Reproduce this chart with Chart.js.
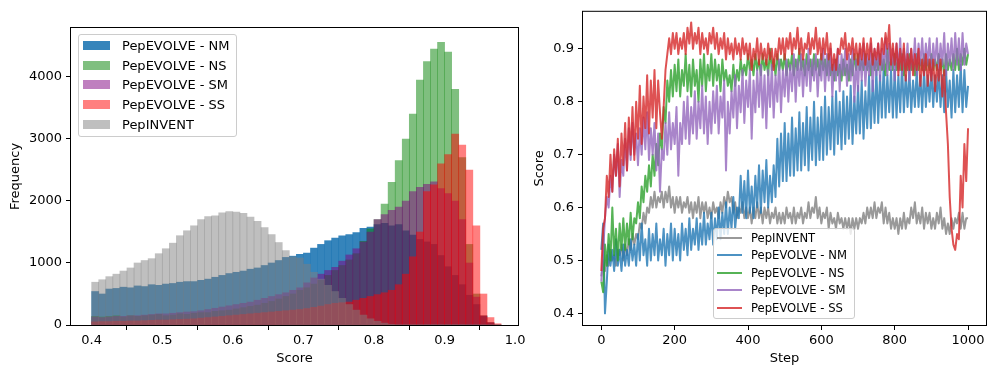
<!DOCTYPE html>
<html>
<head>
<meta charset="utf-8">
<script src="https://cdn.jsdelivr.net/npm/chart.js@4.4.0/dist/chart.umd.min.js"></script>
<style>
    body { margin: 0; background: #fff; font-family: 'DejaVu Sans', sans-serif; }
    #wrap { position: relative; width: 997px; height: 376px; overflow: hidden; }
    canvas { position: absolute; top: 0; }
    #histCanvas { left: 0; }
    #lineCanvas { left: 520px; }
    .legend { position: absolute; box-sizing: border-box; border: 1px solid #cccccc; border-radius: 3px;
              background: rgba(255, 255, 255, 0.8); color: #000; }
    .legend .row { display: flex; align-items: center; white-space: nowrap; }
    #histLegend { left: 78px; top: 34px; width: 159px; height: 103px; padding-top: 1px; font-size: 13px; }
    #histLegend .row { height: 19.6px; }
    #histLegend .mark { width: 27px; height: 9px; margin-left: 4px; margin-right: 12px; }
    #lineLegend { left: 713px; top: 228px; width: 142px; height: 91px; font-size: 11.6px; }
    #lineLegend .row { height: 17.5px; }
    #lineLegend .mark { width: 25px; height: 2px; margin-left: 3px; margin-right: 9px; }
</style>
</head>
<body>
<div id="wrap">
    <canvas id="histCanvas" width="540" height="376"></canvas>
    <canvas id="lineCanvas" width="477" height="376"></canvas>
    <div id="histLegend" class="legend"></div>
    <div id="lineLegend" class="legend"></div>
</div>
<script>
// histogram: bin centres (width 0.01) and counts per model
var binCenters = [0.405, 0.415, 0.425, 0.435, 0.445, 0.455, 0.465, 0.475, 0.485, 0.495,
    0.505, 0.515, 0.525, 0.535, 0.545, 0.555, 0.565, 0.575, 0.585, 0.595,
    0.605, 0.615, 0.625, 0.635, 0.645, 0.655, 0.665, 0.675, 0.685, 0.695,
    0.705, 0.715, 0.725, 0.735, 0.745, 0.755, 0.765, 0.775, 0.785, 0.795,
    0.805, 0.815, 0.825, 0.835, 0.845, 0.855, 0.865, 0.875, 0.885, 0.895,
    0.905, 0.915, 0.925, 0.935, 0.945, 0.955, 0.965, 0.975];

var nmHist = [540, 500, 580, 590, 610, 600, 630, 620, 650, 640,
    660, 670, 690, 700, 700, 720, 740, 770, 800, 830,
    850, 870, 900, 920, 960, 1000, 1040, 1090, 1110, 1140,
    1160, 1240, 1300, 1360, 1400, 1440, 1460, 1490, 1560, 1580,
    1620, 1640, 1600, 1620, 1520, 1450, 1380, 1340, 1300, 1120,
    940, 800, 650, 480, 330, 140, 30, 0];
var nsHist = [140, 130, 140, 150, 130, 150, 140, 150, 160, 170,
    150, 160, 180, 170, 190, 200, 200, 220, 230, 240,
    260, 280, 300, 320, 350, 380, 420, 460, 500, 560,
    600, 660, 720, 800, 880, 960, 1050, 1150, 1350, 1550,
    1700, 1950, 2300, 2650, 3000, 3400, 3950, 4250, 4450, 4560,
    4400, 3800, 2700, 1300, 500, 150, 40, 0];
var smHist = [130, 120, 130, 140, 140, 150, 150, 160, 170, 180,
    180, 190, 200, 210, 215, 230, 250, 270, 290, 310,
    330, 350, 370, 400, 430, 460, 490, 520, 560, 600,
    680, 760, 820, 880, 930, 1030, 1130, 1230, 1340, 1500,
    1700, 1780, 1850, 1900, 2000, 2150, 2220, 2270, 2310, 2200,
    2120, 2000, 1700, 1000, 450, 150, 40, 0];
var ssHist = [50, 55, 55, 60, 60, 65, 65, 70, 75, 80,
    80, 85, 90, 95, 100, 110, 120, 130, 140, 150,
    160, 170, 180, 190, 200, 210, 220, 230, 240, 250,
    265, 285, 305, 330, 350, 360, 370, 400, 430, 460,
    490, 520, 560, 650, 820, 1100, 1500, 2150, 2260, 2600,
    2750, 3080, 2900, 2500, 1600, 500, 120, 20];
var inventHist = [690, 730, 780, 820, 870, 920, 1000, 1040, 1070, 1150,
    1230, 1320, 1440, 1520, 1600, 1700, 1750, 1760, 1810, 1830,
    1820, 1800, 1740, 1670, 1570, 1460, 1330, 1200, 1100, 1080,
    980, 850, 740, 640, 540, 430, 330, 240, 160, 100,
    60, 30, 10, 0, 0, 0, 0, 0, 0, 0,
    0, 0, 0, 0, 0, 0, 0, 0];

var histLabels = ['PepEVOLVE - NM', 'PepEVOLVE - NS', 'PepEVOLVE - SM', 'PepEVOLVE - SS', 'PepINVENT'];
var scoreTicks = [0.4, 0.5, 0.6, 0.7, 0.8, 0.9, 1.0];
var freqTicks = [0, 1000, 2000, 3000, 4000];

// training curves, read every 5 steps (alternating top / bottom of the noisy band)
var steps = [0, 5, 10, 15, 20, 25, 30, 35, 40, 45, 50, 55, 60, 65, 70, 75, 80, 85, 90, 95,
    100, 105, 110, 115, 120, 125, 130, 135, 140, 145, 150, 155, 160, 165, 170, 175, 180, 185, 190, 195,
    200, 205, 210, 215, 220, 225, 230, 235, 240, 245, 250, 255, 260, 265, 270, 275, 280, 285, 290, 295,
    300, 305, 310, 315, 320, 325, 330, 335, 340, 345, 350, 355, 360, 365, 370, 375, 380, 385, 390, 395,
    400, 405, 410, 415, 420, 425, 430, 435, 440, 445, 450, 455, 460, 465, 470, 475, 480, 485, 490, 495,
    500, 505, 510, 515, 520, 525, 530, 535, 540, 545, 550, 555, 560, 565, 570, 575, 580, 585, 590, 595,
    600, 605, 610, 615, 620, 625, 630, 635, 640, 645, 650, 655, 660, 665, 670, 675, 680, 685, 690, 695,
    700, 705, 710, 715, 720, 725, 730, 735, 740, 745, 750, 755, 760, 765, 770, 775, 780, 785, 790, 795,
    800, 805, 810, 815, 820, 825, 830, 835, 840, 845, 850, 855, 860, 865, 870, 875, 880, 885, 890, 895,
    900, 905, 910, 915, 920, 925, 930, 935, 940, 945, 950, 955, 960, 965, 970, 975, 980, 985, 990, 995,
    1000];

var inventCurve = [0.47, 0.50, 0.48, 0.51, 0.49, 0.52, 0.50, 0.51, 0.49, 0.52, 0.51, 0.53, 0.50, 0.53, 0.51, 0.54, 0.52, 0.55, 0.53, 0.55,
    0.54, 0.57, 0.56, 0.59, 0.57, 0.60, 0.59, 0.62, 0.60, 0.63, 0.60, 0.62, 0.61, 0.63, 0.60, 0.63, 0.61, 0.64, 0.60, 0.62,
    0.59, 0.62, 0.60, 0.62, 0.59, 0.61, 0.60, 0.62, 0.59, 0.61, 0.58, 0.61, 0.59, 0.62, 0.58, 0.61, 0.59, 0.61, 0.58, 0.60,
    0.58, 0.61, 0.59, 0.60, 0.58, 0.61, 0.59, 0.62, 0.60, 0.63, 0.61, 0.62, 0.59, 0.61, 0.58, 0.60, 0.59, 0.61, 0.58, 0.60,
    0.58, 0.60, 0.57, 0.60, 0.58, 0.61, 0.58, 0.60, 0.57, 0.60, 0.58, 0.60, 0.57, 0.59, 0.58, 0.60, 0.57, 0.59, 0.57, 0.59,
    0.57, 0.60, 0.58, 0.59, 0.57, 0.60, 0.57, 0.59, 0.58, 0.60, 0.57, 0.59, 0.58, 0.61, 0.58, 0.60, 0.59, 0.62, 0.58, 0.60,
    0.57, 0.59, 0.58, 0.60, 0.56, 0.59, 0.57, 0.58, 0.56, 0.59, 0.57, 0.58, 0.56, 0.58, 0.56, 0.58, 0.55, 0.58, 0.56, 0.58,
    0.56, 0.58, 0.57, 0.59, 0.57, 0.60, 0.58, 0.60, 0.58, 0.61, 0.58, 0.60, 0.59, 0.61, 0.57, 0.60, 0.57, 0.59, 0.56, 0.58,
    0.56, 0.58, 0.55, 0.58, 0.56, 0.59, 0.56, 0.58, 0.57, 0.60, 0.58, 0.61, 0.57, 0.59, 0.57, 0.60, 0.56, 0.59, 0.57, 0.59,
    0.56, 0.58, 0.56, 0.59, 0.57, 0.60, 0.56, 0.58, 0.55, 0.57, 0.55, 0.58, 0.56, 0.58, 0.57, 0.59, 0.56, 0.59, 0.56, 0.58,
    0.58];
var nmCurve = [0.52, 0.57, 0.40, 0.46, 0.53, 0.49, 0.52, 0.48, 0.54, 0.49, 0.52, 0.48, 0.53, 0.49, 0.52, 0.49, 0.54, 0.50, 0.53, 0.49,
    0.55, 0.50, 0.57, 0.51, 0.54, 0.49, 0.56, 0.50, 0.55, 0.51, 0.57, 0.50, 0.54, 0.51, 0.56, 0.49, 0.55, 0.51, 0.57, 0.50,
    0.56, 0.51, 0.55, 0.50, 0.57, 0.52, 0.56, 0.51, 0.58, 0.52, 0.56, 0.53, 0.58, 0.52, 0.57, 0.53, 0.59, 0.53, 0.57, 0.54,
    0.59, 0.53, 0.58, 0.54, 0.60, 0.54, 0.59, 0.55, 0.61, 0.55, 0.60, 0.56, 0.62, 0.56, 0.60, 0.58, 0.66, 0.59, 0.65, 0.58,
    0.67, 0.59, 0.64, 0.58, 0.66, 0.60, 0.68, 0.59, 0.67, 0.61, 0.69, 0.60, 0.66, 0.61, 0.68, 0.62, 0.73, 0.64, 0.74, 0.65,
    0.76, 0.65, 0.74, 0.66, 0.77, 0.66, 0.75, 0.67, 0.78, 0.67, 0.76, 0.68, 0.79, 0.67, 0.77, 0.69, 0.80, 0.68, 0.77, 0.69,
    0.79, 0.69, 0.81, 0.70, 0.79, 0.71, 0.81, 0.70, 0.82, 0.72, 0.80, 0.71, 0.82, 0.72, 0.81, 0.73, 0.83, 0.72, 0.81, 0.74,
    0.83, 0.74, 0.84, 0.73, 0.82, 0.75, 0.85, 0.75, 0.84, 0.76, 0.86, 0.76, 0.85, 0.77, 0.87, 0.77, 0.85, 0.78, 0.86, 0.77,
    0.86, 0.77, 0.85, 0.78, 0.87, 0.78, 0.85, 0.79, 0.86, 0.78, 0.84, 0.79, 0.86, 0.79, 0.85, 0.78, 0.86, 0.79, 0.85, 0.80,
    0.86, 0.79, 0.85, 0.80, 0.86, 0.79, 0.85, 0.78, 0.86, 0.79, 0.84, 0.77, 0.86, 0.78, 0.85, 0.79, 0.87, 0.78, 0.86, 0.79,
    0.83];
var nsCurve = [0.46, 0.44, 0.53, 0.49, 0.55, 0.50, 0.60, 0.51, 0.56, 0.50, 0.57, 0.52, 0.58, 0.52, 0.57, 0.53, 0.59, 0.54, 0.58, 0.57,
    0.61, 0.58, 0.64, 0.61, 0.66, 0.63, 0.68, 0.64, 0.70, 0.66, 0.72, 0.68, 0.74, 0.71, 0.79, 0.76, 0.84, 0.80, 0.86, 0.81,
    0.87, 0.82, 0.88, 0.81, 0.86, 0.83, 0.89, 0.82, 0.87, 0.81, 0.88, 0.83, 0.86, 0.80, 0.88, 0.83, 0.89, 0.82, 0.87, 0.84,
    0.89, 0.83, 0.88, 0.84, 0.87, 0.82, 0.88, 0.84, 0.86, 0.83, 0.85, 0.82, 0.87, 0.83, 0.86, 0.84, 0.88, 0.85, 0.87, 0.85,
    0.89, 0.86, 0.88, 0.85, 0.89, 0.86, 0.88, 0.85, 0.89, 0.86, 0.88, 0.85, 0.90, 0.86, 0.88, 0.85, 0.89, 0.86, 0.88, 0.86,
    0.89, 0.85, 0.88, 0.86, 0.89, 0.85, 0.88, 0.86, 0.90, 0.86, 0.88, 0.85, 0.89, 0.86, 0.88, 0.85, 0.89, 0.86, 0.88, 0.85,
    0.89, 0.86, 0.88, 0.85, 0.89, 0.85, 0.87, 0.84, 0.88, 0.85, 0.87, 0.84, 0.88, 0.85, 0.87, 0.84, 0.88, 0.85, 0.89, 0.86,
    0.89, 0.86, 0.88, 0.86, 0.89, 0.86, 0.88, 0.85, 0.89, 0.86, 0.88, 0.86, 0.89, 0.86, 0.88, 0.85, 0.90, 0.86, 0.88, 0.86,
    0.89, 0.86, 0.88, 0.86, 0.89, 0.85, 0.88, 0.86, 0.89, 0.86, 0.88, 0.85, 0.89, 0.86, 0.88, 0.86, 0.89, 0.86, 0.88, 0.86,
    0.89, 0.86, 0.88, 0.86, 0.89, 0.86, 0.88, 0.85, 0.89, 0.86, 0.88, 0.86, 0.89, 0.86, 0.90, 0.86, 0.89, 0.87, 0.90, 0.87,
    0.89];
var smCurve = [0.46, 0.52, 0.58, 0.62, 0.60, 0.66, 0.63, 0.70, 0.66, 0.72, 0.62, 0.69, 0.66, 0.73, 0.67, 0.75, 0.69, 0.76, 0.70, 0.74,
    0.68, 0.75, 0.70, 0.77, 0.71, 0.78, 0.69, 0.75, 0.70, 0.76, 0.67, 0.74, 0.63, 0.71, 0.69, 0.76, 0.70, 0.78, 0.71, 0.76,
    0.72, 0.79, 0.66, 0.76, 0.72, 0.80, 0.73, 0.81, 0.72, 0.79, 0.74, 0.82, 0.73, 0.80, 0.75, 0.83, 0.74, 0.81, 0.72, 0.80,
    0.74, 0.82, 0.76, 0.83, 0.74, 0.81, 0.77, 0.84, 0.67, 0.80, 0.74, 0.82, 0.77, 0.85, 0.75, 0.83, 0.78, 0.86, 0.76, 0.84,
    0.79, 0.86, 0.73, 0.84, 0.78, 0.86, 0.79, 0.87, 0.77, 0.85, 0.75, 0.86, 0.79, 0.87, 0.77, 0.85, 0.80, 0.88, 0.78, 0.86,
    0.81, 0.88, 0.80, 0.87, 0.82, 0.89, 0.80, 0.88, 0.83, 0.89, 0.81, 0.88, 0.83, 0.90, 0.82, 0.88, 0.84, 0.89, 0.81, 0.88,
    0.84, 0.90, 0.82, 0.89, 0.84, 0.90, 0.81, 0.88, 0.84, 0.90, 0.82, 0.89, 0.85, 0.90, 0.83, 0.89, 0.84, 0.90, 0.80, 0.88,
    0.82, 0.90, 0.84, 0.91, 0.83, 0.89, 0.85, 0.91, 0.82, 0.90, 0.85, 0.91, 0.84, 0.90, 0.86, 0.92, 0.85, 0.91, 0.86, 0.90,
    0.84, 0.91, 0.86, 0.92, 0.85, 0.90, 0.86, 0.91, 0.84, 0.90, 0.86, 0.92, 0.85, 0.91, 0.87, 0.92, 0.86, 0.91, 0.87, 0.92,
    0.85, 0.91, 0.87, 0.92, 0.86, 0.91, 0.87, 0.93, 0.85, 0.91, 0.87, 0.92, 0.86, 0.93, 0.87, 0.92, 0.86, 0.93, 0.87, 0.91,
    0.89];
var ssCurve = [0.48, 0.56, 0.58, 0.66, 0.62, 0.70, 0.63, 0.71, 0.66, 0.73, 0.64, 0.74, 0.68, 0.76, 0.67, 0.77, 0.70, 0.79, 0.69, 0.80,
    0.73, 0.83, 0.72, 0.81, 0.75, 0.85, 0.74, 0.84, 0.77, 0.86, 0.75, 0.84, 0.78, 0.73, 0.79, 0.86, 0.89, 0.92, 0.89, 0.93,
    0.90, 0.93, 0.89, 0.92, 0.90, 0.93, 0.89, 0.94, 0.91, 0.95, 0.90, 0.93, 0.91, 0.94, 0.89, 0.93, 0.90, 0.92, 0.89, 0.93,
    0.91, 0.94, 0.90, 0.93, 0.89, 0.92, 0.90, 0.93, 0.88, 0.92, 0.89, 0.91, 0.88, 0.92, 0.89, 0.91, 0.88, 0.92, 0.89, 0.91,
    0.88, 0.91, 0.86, 0.90, 0.88, 0.92, 0.87, 0.91, 0.88, 0.90, 0.87, 0.91, 0.88, 0.90, 0.86, 0.90, 0.88, 0.92, 0.89, 0.92,
    0.88, 0.92, 0.90, 0.93, 0.89, 0.92, 0.90, 0.94, 0.89, 0.92, 0.88, 0.91, 0.90, 0.93, 0.89, 0.92, 0.90, 0.94, 0.89, 0.92,
    0.88, 0.92, 0.89, 0.93, 0.88, 0.91, 0.86, 0.89, 0.86, 0.90, 0.89, 0.92, 0.90, 0.93, 0.88, 0.91, 0.89, 0.92, 0.88, 0.91,
    0.87, 0.91, 0.88, 0.92, 0.87, 0.91, 0.88, 0.92, 0.87, 0.90, 0.88, 0.91, 0.87, 0.92, 0.89, 0.93, 0.90, 0.945, 0.87, 0.91,
    0.87, 0.91, 0.85, 0.90, 0.86, 0.91, 0.84, 0.89, 0.86, 0.90, 0.85, 0.89, 0.86, 0.90, 0.83, 0.88, 0.85, 0.89, 0.83, 0.88,
    0.84, 0.88, 0.82, 0.87, 0.84, 0.88, 0.81, 0.86, 0.78, 0.72, 0.62, 0.56, 0.53, 0.52, 0.55, 0.54, 0.66, 0.60, 0.72, 0.65,
    0.75];

var curveLabels = ['PepINVENT', 'PepEVOLVE - NM', 'PepEVOLVE - NS', 'PepEVOLVE - SM', 'PepEVOLVE - SS'];
var stepTicks = [0, 200, 400, 600, 800, 1000];
var curveTicks = [0.4, 0.5, 0.6, 0.7, 0.8, 0.9];

Chart.defaults.font.family = "'DejaVu Sans', sans-serif";
Chart.defaults.font.size = 13;
Chart.defaults.color = '#000';
Chart.defaults.animation = false;

// matplotlib style box round the axes
var framePlugin = {
    id: 'frame',
    afterDatasetsDraw: function(chart) {
        var a = chart.chartArea, ctx = chart.ctx;
        ctx.save();
        ctx.strokeStyle = '#000';
        ctx.lineWidth = 1;
        ctx.strokeRect(a.left - 0.5, a.top - 0.5, a.right - a.left + 1, a.bottom - a.top + 1);
        ctx.restore();
    }
};

function pairs(xs, ys) {
    return xs.map(function(x, i) { return { x: x, y: ys[i] }; });
}

var histColors = ['rgba(31, 119, 180, 0.9)', 'rgba(0, 128, 0, 0.5)', 'rgba(128, 0, 128, 0.5)',
                  'rgba(255, 0, 0, 0.5)', 'rgba(128, 128, 128, 0.5)'];
var histSeries = [nmHist, nsHist, smHist, ssHist, inventHist];

var histCtx = document.getElementById('histCanvas').getContext('2d');
new Chart(histCtx, {
    type: 'bar',
    data: {
        datasets: histSeries.map(function(s, i) {
            return {
                label: histLabels[i],
                data: pairs(binCenters, s),
                backgroundColor: histColors[i],
                borderWidth: 0,
                grouped: false,
                barPercentage: 1,
                categoryPercentage: 1,
                order: histSeries.length - i
            };
        })
    },
    options: {
        responsive: false,
        devicePixelRatio: 1,
        layout: { padding: { top: 28, right: 22, bottom: 0, left: 0 } },
        plugins: { legend: { display: false }, tooltip: { enabled: false } },
        scales: {
            x: {
                type: 'linear',
                offset: false,
                min: 0.3707,
                max: 1.004,
                afterBuildTicks: function(s) { s.ticks = scoreTicks.map(function(v) { return { value: v }; }); },
                afterFit: function(s) { s.height = 51; },
                ticks: { autoSkip: false, maxRotation: 0, padding: 3, callback: function(v) { return v.toFixed(1); } },
                grid: { drawOnChartArea: false, tickLength: 5, color: '#000' },
                border: { display: false },
                title: { display: true, text: 'Score', padding: { top: 0, bottom: 10 } }
            },
            y: {
                min: 0,
                max: 4790,
                afterBuildTicks: function(s) { s.ticks = freqTicks.map(function(v) { return { value: v }; }); },
                afterFit: function(s) { s.width = 71; },
                ticks: { autoSkip: false, padding: 4, callback: function(v) { return String(v); } },
                grid: { drawOnChartArea: false, tickLength: 5, color: '#000' },
                border: { display: false },
                title: { display: true, text: 'Frequency', padding: { top: 8, bottom: 0 } }
            }
        }
    },
    plugins: [framePlugin]
});

var curveColors = ['rgba(127, 127, 127, 0.8)', 'rgba(31, 119, 180, 0.8)', 'rgba(44, 160, 44, 0.8)',
                   'rgba(148, 103, 189, 0.8)', 'rgba(214, 39, 40, 0.8)'];
var curveSeries = [inventCurve, nmCurve, nsCurve, smCurve, ssCurve];

var lineCtx = document.getElementById('lineCanvas').getContext('2d');
new Chart(lineCtx, {
    type: 'line',
    data: {
        datasets: curveSeries.map(function(s, i) {
            return {
                label: curveLabels[i],
                data: pairs(steps, s),
                borderColor: curveColors[i],
                borderWidth: 2,
                borderJoinStyle: 'round',
                pointRadius: 0,
                tension: 0,
                fill: false,
                order: curveSeries.length - i
            };
        })
    },
    options: {
        responsive: false,
        devicePixelRatio: 1,
        layout: { padding: { top: 11, right: 11, bottom: 0, left: 0 } },
        plugins: { legend: { display: false }, tooltip: { enabled: false } },
        scales: {
            x: {
                type: 'linear',
                min: -49.95,
                max: 1048.95,
                afterBuildTicks: function(s) { s.ticks = stepTicks.map(function(v) { return { value: v }; }); },
                afterFit: function(s) { s.height = 51; },
                ticks: { autoSkip: false, maxRotation: 0, padding: 3, callback: function(v) { return String(v); } },
                grid: { drawOnChartArea: false, tickLength: 5, color: '#000' },
                border: { display: false },
                title: { display: true, text: 'Step', padding: { top: 0, bottom: 10 } }
            },
            y: {
                min: 0.378,
                max: 0.970,
                afterBuildTicks: function(s) { s.ticks = curveTicks.map(function(v) { return { value: v }; }); },
                afterFit: function(s) { s.width = 63; },
                ticks: { autoSkip: false, padding: 4, callback: function(v) { return v.toFixed(1); } },
                grid: { drawOnChartArea: false, tickLength: 5, color: '#000' },
                border: { display: false },
                title: { display: true, text: 'Score', padding: { top: 12, bottom: 0 } }
            }
        }
    },
    plugins: [framePlugin]
});

// legends sit inside the axes like the matplotlib ones
function buildLegend(id, labels, colors) {
    var box = document.getElementById(id);
    labels.forEach(function(text, i) {
        var row = document.createElement('div');
        row.className = 'row';
        var mark = document.createElement('span');
        mark.className = 'mark';
        mark.style.background = colors[i];
        var span = document.createElement('span');
        span.textContent = text;
        row.appendChild(mark);
        row.appendChild(span);
        box.appendChild(row);
    });
}
buildLegend('histLegend', histLabels, histColors);
buildLegend('lineLegend', curveLabels, curveColors);
</script>
</body>
</html>
